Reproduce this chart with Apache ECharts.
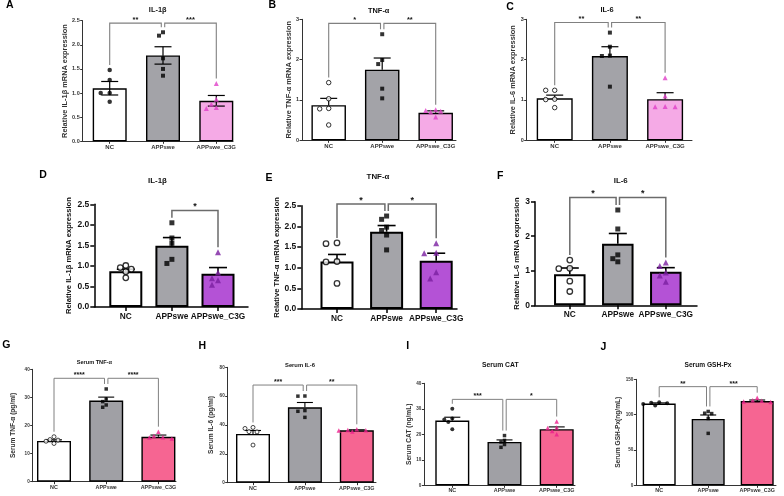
<!DOCTYPE html>
<html>
<head>
<meta charset="utf-8">
<script src="https://cdn.jsdelivr.net/npm/echarts@6/dist/echarts.min.js"></script>
<style>
  html, body { margin: 0; padding: 0; background: #fff; }
  #chart { width: 784px; height: 496px; }
</style>
</head>
<body>
<div id="chart"></div>
<script>
const groups = ['NC', 'APPswe', 'APPswe_C3G'];

// A: IL-1β (row 1)
const aMean = [1.10, 1.78, 0.84];
const aSem = [0.14, 0.18, 0.11];
const aNC = [1.48, 1.27, 1.00, 1.00, 0.82];
const aAPP = [2.26, 2.19, 1.72, 1.50, 1.36];
const aC3G = [1.20, 0.87, 0.77, 0.70, 0.68];
const aSig = [[0, 1, '**'], [1, 2, '***']];
// B: TNF-α
const bMean = [0.87, 1.75, 0.68];
const bSem = [0.17, 0.29, 0.05];
const bNC = [1.43, 1.03, 0.79, 0.78, 0.38];
const bAPP = [2.63, 1.99, 1.89, 1.28, 1.04];
const bC3G = [0.76, 0.74, 0.72, 0.70, 0.58];
const bSig = [[0, 1, '*'], [1, 2, '**']];
// C: IL-6
const cMean = [1.04, 2.09, 1.02];
const cSem = [0.08, 0.23, 0.16];
const cNC = [1.24, 1.24, 1.02, 1.01, 0.81];
const cAPP = [2.67, 2.32, 2.10, 2.09, 1.33];
const cC3G = [1.55, 1.10, 0.84, 0.83, 0.83];
const cSig = [[0, 1, '**'], [1, 2, '**']];
// D: IL-1β (row 2)
const dMean = [0.87, 1.49, 0.81];
const dSem = [0.05, 0.20, 0.15];
const dNC = [1.01, 0.96, 0.92, 0.86, 0.71];
const dAPP = [2.05, 1.68, 1.55, 1.16, 1.06];
const dC3G = [1.33, 0.84, 0.70, 0.65, 0.54];
const dSig = [[1, 2, '*']];
// E: TNF-α
const eMean = [1.15, 1.87, 1.17];
const eSem = [0.17, 0.15, 0.18];
const eNC = [1.60, 1.58, 1.15, 1.14, 0.62];
const eAPP = [2.25, 2.17, 1.98, 1.90, 1.79, 1.43];
const eC3G = [1.59, 1.36, 1.35, 0.89, 0.74];
const eSig = [[0, 1, '*'], [1, 2, '*']];
// F: IL-6
const fMean = [0.90, 1.78, 0.97];
const fSem = [0.18, 0.30, 0.12];
const fNC = [1.31, 1.07, 1.06, 0.70, 0.40];
const fAPP = [2.76, 2.21, 1.46, 1.35, 1.26];
const fC3G = [1.24, 1.14, 0.95, 0.86, 0.68];
const fSig = [[0, 1, '*'], [1, 2, '*']];
// G: Serum TNF-α
const gMean = [14.5, 28.9, 16.0];
const gSem = [0.4, 1.2, 0.6];
const gNC = [16.0, 15.0, 14.8, 14.4, 13.6];
const gAPP = [33.0, 29.4, 28.5, 27.3, 26.5];
const gC3G = [17.8, 16.3, 15.8, 15.7, 15.4];
const gSig = [[0, 1, '****'], [1, 2, '****']];
// H: Serum IL-6
const hMean = [33.8, 52.3, 36.3];
const hSem = [2.4, 3.3, 0.4];
const hNC = [38.3, 37.6, 35.4, 35.2, 26.1];
const hAPP = [60.1, 60.0, 50.0, 49.5, 45.3];
const hC3G = [37.0, 36.6, 36.4, 36.2, 35.5];
const hSig = [[0, 1, '***'], [1, 2, '**']];
// I: Serum CAT
const iMean = [25.4, 17.0, 22.0];
const iSem = [1.3, 0.8, 0.9];
const iNC = [30.0, 26.2, 25.8, 24.8, 22.0];
const iAPP = [19.5, 17.6, 17.0, 16.0, 14.9];
const iC3G = [25.0, 22.7, 22.5, 21.3, 20.0];
const iSig = [[0, 1, '***'], [1, 2, '*']];
// J: Serum GSH-Px
const jMean = [115.6, 93.9, 119.3];
const jSem = [1.0, 5.6, 1.4];
const jNC = [117.5, 116.8, 116.0, 115.0, 113.0];
const jAPP = [104.5, 102.0, 101.5, 94.5, 73.5];
const jC3G = [124.0, 120.5, 119.5, 118.5, 118.0];
const jSig = [[0, 1, '**'], [1, 2, '***']];

const FONT = "'Liberation Sans', Arial, Helvetica, sans-serif";

// look of each row
const themes = {
  r1: { axis: '#333', axisW: 1, tickLen: 2.5, tickFont: 5.5, xFont: 6, xMargin: 3, yMargin: 3, nameFont: 7.4,
        titleFont: 7.4, starFont: 7.5, border: 1.4, gray: '#a3a3a8', c3g: '#f5aae6', tri: '#e040c8',
        mk: [4.5, 4, 5], ring: 1, bracket: '#808080', bracketW: 1.1, text: '#333', capW: 8.5, errW: 1.2 },
  r2: { axis: '#000', axisW: 1.5, tickLen: 4, tickFont: 8.5, xFont: 8.3, xMargin: 5.5, yMargin: 5, nameFont: 7.6,
        titleFont: 7.9, starFont: 9, border: 2, gray: '#a4a4a9', c3g: '#b452d6', tri: '#7b1fa0',
        mk: [5.5, 5, 6], ring: 1.3, bracket: '#6b6b6b', bracketW: 1.5, text: '#111', capW: 9, errW: 1.6 },
  r3: { axis: '#333', axisW: 1, tickLen: 2.5, tickFont: 4.6, xFont: 5.4, xMargin: 3, yMargin: 3, nameFont: 6.6,
        titleFont: 6.5, starFont: 7, border: 1.4, gray: '#a0a0a5', c3g: '#f66592', tri: '#ec1e8c',
        mk: [4, 3.5, 4.5], ring: 0.9, bracket: '#808080', bracketW: 1, text: '#333', capW: 8, errW: 1.1 }
};

// box = [axis left, top (y max), axis right end, bottom (y 0)]
const panels = [
  { letter: 'A', title: 'IL-1β', yName: 'Relative IL-1β mRNA expression', mean: aMean, sem: aSem, pts: [aNC, aAPP, aC3G], sig: aSig,
    yMax: 2.5, yInt: 0.5, dec: 1, th: 'r1', box: [82.7, 20.7, 233, 141.3], c0: 109.7, sp: 53.3, barW: 34, level: 2.45,
    open: false, errBoth: true, nameGap: 13.5, titleAt: [157.7, 9.5], letterAt: [9.7, 5.5] },
  { letter: 'B', title: 'TNF-α', yName: 'Relative TNF-α mRNA expression', mean: bMean, sem: bSem, pts: [bNC, bAPP, bC3G], sig: bSig,
    yMax: 3, yInt: 1, dec: 0, th: 'r1', box: [302, 19.3, 456, 140.3], c0: 328.7, sp: 53.5, barW: 34.5, level: 2.9,
    open: true, nameGap: 7.2, titleAt: [378.7, 10.5], letterAt: [272.3, 5.5] },
  { letter: 'C', title: 'IL-6', yName: 'Relative IL-6 mRNA expression', mean: cMean, sem: cSem, pts: [cNC, cAPP, cC3G], sig: cSig,
    yMax: 3, yInt: 1, dec: 0, th: 'r1', box: [526.7, 19.3, 692, 140.3], c0: 554.7, sp: 55.2, barW: 36, level: 2.92,
    open: true, nameGap: 7.9, titleAt: [607, 10], letterAt: [510, 7] },
  { letter: 'D', title: 'IL-1β', yName: 'Relative IL-1β mRNA expression', mean: dMean, sem: dSem, pts: [dNC, dAPP, dC3G], sig: dSig,
    yMax: 2.5, yInt: 0.5, dec: 1, th: 'r2', box: [94.3, 204.3, 248, 307], c0: 125.8, sp: 46.1, barW: 33, level: 2.35,
    open: true, nameGap: 21.5, titleAt: [157.5, 181], letterAt: [43, 175.3] },
  { letter: 'E', title: 'TNF-α', yName: 'Relative TNF-α mRNA expression', mean: eMean, sem: eSem, pts: [eNC, eAPP, eC3G], sig: eSig,
    yMax: 2.5, yInt: 0.5, dec: 1, th: 'r2', box: [301.3, 205.7, 457, 309], c0: 337, sp: 49.6, barW: 33, level: 2.54,
    open: true, nameGap: 20.5, titleAt: [378, 177], letterAt: [269, 177.8] },
  { letter: 'F', title: 'IL-6', yName: 'Relative IL-6 mRNA expression', mean: fMean, sem: fSem, pts: [fNC, fAPP, fC3G], sig: fSig,
    yMax: 3, yInt: 1, dec: 0, th: 'r2', box: [535, 201.7, 697, 305.3], c0: 569.8, sp: 48, barW: 31.5, level: 3.12,
    open: true, nameGap: 12.4, titleAt: [620.7, 181], letterAt: [500.3, 176] },
  { letter: 'G', title: 'Serum TNF-α', yName: 'Serum TNF-α (pg/ml)', mean: gMean, sem: gSem, pts: [gNC, gAPP, gC3G], sig: gSig,
    yMax: 40, yInt: 10, dec: 0, th: 'r3', box: [32.7, 369.3, 176, 481.7], c0: 54, sp: 52.2, barW: 34, level: 36.8,
    open: true, nameGap: 16, titleAt: [94.3, 362.3], letterAt: [6.3, 345.3], titleFont: 5.6 },
  { letter: 'H', title: 'Serum IL-6', yName: 'Serum IL-6 (pg/ml)', mean: hMean, sem: hSem, pts: [hNC, hAPP, hC3G], sig: hSig,
    yMax: 80, yInt: 20, dec: 0, th: 'r3', box: [227.7, 367.3, 376, 482.7], c0: 253, sp: 51.9, barW: 34, level: 67.7,
    open: true, nameGap: 13.4, titleAt: [300, 365.7], letterAt: [202.3, 346], titleFont: 5.8 },
  { letter: 'I', title: 'Serum CAT', yName: 'Serum CAT (ng/mL)', mean: iMean, sem: iSem, pts: [iNC, iAPP, iC3G], sig: iSig,
    yMax: 40, yInt: 10, dec: 0, th: 'r3', box: [424.3, 383.3, 575, 485.3], c0: 452.3, sp: 52.2, barW: 34, level: 33.7,
    open: false, nameGap: 8.5, titleAt: [500.3, 365], letterAt: [407.8, 345.7], titleFont: 6.8 },
  { letter: 'J', title: 'Serum GSH-Px', yName: 'Serum GSH-Px(ng/mL)', mean: jMean, sem: jSem, pts: [jNC, jAPP, jC3G], sig: jSig,
    yMax: 150, yInt: 50, dec: 0, th: 'r3', box: [636.3, 379.3, 776, 485.3], c0: 659.2, sp: 49, barW: 33, level: 139.6,
    open: false, nameGap: 15, titleAt: [708, 365], letterAt: [603.3, 346.7], titleFont: 6.6 }
];

// spread points of one group sideways so markers do not sit on each other
function swarm(values, pxPerY, size) {
  const order = values.map((v, i) => i).sort((p, q) => values[q] - values[p]);
  const placed = [];
  const out = new Array(values.length);
  const step = size * 1.0;
  order.forEach(idx => {
    const y = values[idx] * pxPerY;
    const tries = [0, -1, 1, -2, 2, -3, 3, -4, 4];
    for (const s of tries) {
      const dx = s * step;
      const hit = placed.some(p => Math.hypot(p[0] - dx, p[1] - y) < size * 1.05);
      if (!hit) { placed.push([dx, y]); out[idx] = dx; break; }
    }
  });
  return out;
}

const grid = [], xAxis = [], yAxis = [], series = [], graphic = [];

panels.forEach((p, k) => {
  const t = themes[p.th];
  const [l, top, r, b] = p.box;
  const fills = ['#ffffff', t.gray, t.c3g];
  const pxPerY = (b - top) / p.yMax;

  grid.push({ left: l, top: top, width: r - l, height: b - top, containLabel: false, outerBoundsMode: 'none' });

  xAxis.push({
    gridIndex: k, type: 'value',
    min: -(p.c0 - l) / p.sp, max: (r - p.c0) / p.sp,
    splitLine: { show: false },
    axisLine: { show: true, onZero: false, lineStyle: { color: t.axis, width: t.axisW } },
    axisTick: { show: true, customValues: [0, 1, 2], length: t.tickLen, lineStyle: { color: t.axis, width: t.axisW } },
    axisLabel: {
      customValues: [0, 1, 2], formatter: v => groups[Math.round(v)], hideOverlap: false,
      fontSize: t.xFont, fontWeight: 'bold', color: t.text, margin: t.xMargin, fontFamily: FONT
    }
  });

  yAxis.push({
    gridIndex: k, type: 'value', min: 0, max: p.yMax, interval: p.yInt,
    name: p.yName, nameLocation: 'middle', nameRotate: 90, nameGap: p.nameGap,
    nameTextStyle: { fontSize: t.nameFont, fontWeight: 'bold', color: t.text, fontFamily: FONT },
    splitLine: { show: false },
    axisLine: { show: true, onZero: false, lineStyle: { color: t.axis, width: t.axisW } },
    axisTick: { show: true, length: t.tickLen, lineStyle: { color: t.axis, width: t.axisW } },
    axisLabel: { formatter: v => v.toFixed(p.dec), fontSize: t.tickFont, fontWeight: 'bold', color: t.text,
                 margin: t.yMargin, fontFamily: FONT }
  });

  // bars
  series.push({
    type: 'bar', xAxisIndex: k, yAxisIndex: k, barWidth: p.barW, z: 1, silent: true,
    data: p.mean.map((m, i) => ({ value: [i, m], itemStyle: { color: fills[i], borderColor: '#000', borderWidth: t.border } }))
  });

  // SEM error bars
  series.push({
    type: 'custom', xAxisIndex: k, yAxisIndex: k, z: 2, silent: true,
    data: p.mean.map((m, i) => [i, m, p.sem[i]]),
    renderItem: (params, api) => {
      const x = api.value(0), m = api.value(1), s = api.value(2);
      const c = api.coord([x, m]);
      const hi = api.coord([x, m + s]);
      const st = { stroke: '#000', lineWidth: t.errW };
      const kids = [
        { type: 'line', shape: { x1: c[0], y1: c[1], x2: hi[0], y2: hi[1] }, style: st },
        { type: 'line', shape: { x1: hi[0] - t.capW, y1: hi[1], x2: hi[0] + t.capW, y2: hi[1] }, style: st }
      ];
      if (p.errBoth) {
        const lo = api.coord([x, m - s]);
        kids.push({ type: 'line', shape: { x1: c[0], y1: c[1], x2: lo[0], y2: lo[1] }, style: st });
        kids.push({ type: 'line', shape: { x1: lo[0] - t.capW, y1: lo[1], x2: lo[0] + t.capW, y2: lo[1] }, style: st });
      }
      return { type: 'group', children: kids };
    }
  });

  // individual animals
  const shapes = ['circle', 'rect', 'triangle'];
  const pts = [];
  p.pts.forEach((vals, i) => {
    const size = t.mk[i];
    const off = swarm(vals, pxPerY, size);
    vals.forEach((v, n) => {
      let style;
      if (i === 0) style = p.open ? { color: '#fff', borderColor: '#000', borderWidth: t.ring } : { color: '#000' };
      else if (i === 1) style = { color: '#000' };
      else style = { color: t.tri };
      pts.push({ value: [i + off[n] / p.sp, v], symbol: shapes[i], symbolSize: size, itemStyle: style });
    });
  });
  series.push({ type: 'scatter', xAxisIndex: k, yAxisIndex: k, z: 3, silent: true, data: pts });

  // significance brackets
  const used = {};
  p.sig.forEach(s => { used[s[0]] = (used[s[0]] || 0) + 1; used[s[1]] = (used[s[1]] || 0) + 1; });
  const top0 = i => Math.max(...p.pts[i], p.mean[i] + p.sem[i]);
  series.push({
    type: 'custom', xAxisIndex: k, yAxisIndex: k, z: 4, silent: true, clip: false,
    data: p.sig.map(s => [s[0], s[1], p.level, top0(s[0]), top0(s[1]),
                          used[s[0]] > 1 ? 1.7 : 0, used[s[1]] > 1 ? -1.7 : 0]),
    renderItem: (params, api) => {
      const a = api.value(0), c = api.value(1), lev = api.value(2);
      const yTop = api.coord([a, lev])[1];
      const xa = api.coord([a, lev])[0] + api.value(5);
      const xc = api.coord([c, lev])[0] + api.value(6);
      const ya = api.coord([a, api.value(3)])[1] - 5;
      const yc = api.coord([c, api.value(4)])[1] - 5;
      return {
        type: 'group',
        children: [
          { type: 'polyline', shape: { points: [[xa, ya], [xa, yTop], [xc, yTop], [xc, yc]] },
            style: { stroke: t.bracket, lineWidth: t.bracketW, fill: null } },
          { type: 'text', x: (xa + xc) / 2, y: yTop + 0.5,
            style: { text: p.sig[params.dataIndex][2], fill: '#111', fontSize: t.starFont, fontWeight: 'bold',
                     fontFamily: FONT, align: 'center', verticalAlign: 'bottom' } }
        ]
      };
    }
  });

  graphic.push({
    type: 'text', x: p.titleAt[0], y: p.titleAt[1],
    style: { text: p.title, font: `bold ${p.titleFont || t.titleFont}px ${FONT}`, fill: '#111',
             align: 'center', verticalAlign: 'middle', textAlign: 'center', textVerticalAlign: 'middle' }
  });
  graphic.push({
    type: 'text', x: p.letterAt[0], y: p.letterAt[1],
    style: { text: p.letter, font: `bold 10.5px ${FONT}`, fill: '#000',
             align: 'center', verticalAlign: 'middle', textAlign: 'center', textVerticalAlign: 'middle' }
  });
});

const chart = echarts.init(document.getElementById('chart'), null, { renderer: 'canvas' });
chart.setOption({ animation: false, backgroundColor: '#fff', grid, xAxis, yAxis, series, graphic });
window.addEventListener('resize', () => chart.resize());
</script>
</body>
</html>
